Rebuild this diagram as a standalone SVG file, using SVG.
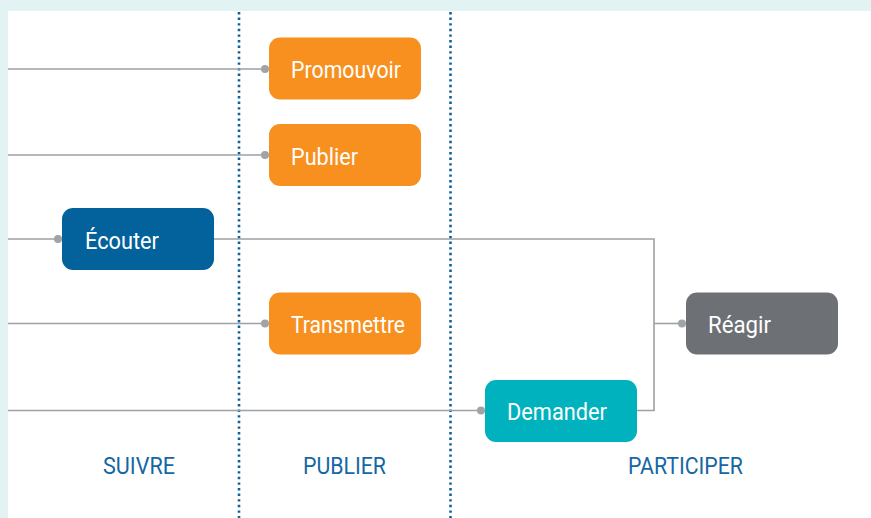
<svg xmlns="http://www.w3.org/2000/svg" width="871" height="518" viewBox="0 0 871 518">
  <style>
    .lbl { font-family: Roboto, "Liberation Sans", sans-serif; font-size: 23px; fill: #ffffff; }
    .col { font-family: Roboto, "Liberation Sans", sans-serif; font-size: 23px; fill: #1467a2; }
    .wire { fill: none; stroke: #9da1a4; stroke-width: 1.6; }
    .dot { fill: #a0a4a7; }
    .sep { stroke: #12609c; stroke-width: 2.6; stroke-dasharray: 2.4 3.2; }
  </style>

  <!-- frame -->
  <rect x="0" y="0" width="871" height="518" fill="#e3f3f4"/>
  <rect x="8" y="11" width="863" height="507" fill="#ffffff"/>

  <!-- column separators -->
  <g id="separators">
    <line class="sep" x1="239" y1="12" x2="239" y2="518"/>
    <line class="sep" x1="450.5" y1="12" x2="450.5" y2="518"/>
  </g>

  <!-- connectors -->
  <g id="connectors">
    <line class="wire" x1="8" y1="69" x2="265" y2="69"/>
    <circle class="dot" cx="265" cy="69" r="4"/>
    <line class="wire" x1="8" y1="155" x2="265" y2="155"/>
    <circle class="dot" cx="265" cy="155" r="4"/>
    <line class="wire" x1="8" y1="239" x2="58" y2="239"/>
    <circle class="dot" cx="58" cy="239" r="4"/>
    <line class="wire" x1="8" y1="323.5" x2="265" y2="323.5"/>
    <circle class="dot" cx="265" cy="323.5" r="4"/>
    <line class="wire" x1="8" y1="410.5" x2="481" y2="410.5"/>
    <circle class="dot" cx="481" cy="410.5" r="4"/>
    <polyline class="wire" points="214,239 654,239 654,410.5 637,410.5"/>
    <line class="wire" x1="654" y1="323.5" x2="682" y2="323.5"/>
    <circle class="dot" cx="682" cy="323.5" r="4"/>
  </g>

  <!-- nodes -->
  <g id="promouvoir">
    <rect x="269" y="37.5" width="152" height="62" rx="11" fill="#f7901e"/>
    <text class="lbl" x="291" y="78" textLength="110" lengthAdjust="spacingAndGlyphs">Promouvoir</text>
  </g>
  <g id="publier">
    <rect x="269" y="124" width="152" height="62" rx="11" fill="#f7901e"/>
    <text class="lbl" x="291" y="164.5" textLength="67" lengthAdjust="spacingAndGlyphs">Publier</text>
  </g>
  <g id="ecouter">
    <rect x="62" y="208" width="152" height="62" rx="11" fill="#03619b"/>
    <text class="lbl" x="85" y="248.5" textLength="74" lengthAdjust="spacingAndGlyphs">Écouter</text>
  </g>
  <g id="transmettre">
    <rect x="269" y="292.5" width="152" height="62" rx="11" fill="#f7901e"/>
    <text class="lbl" x="291" y="333" textLength="114" lengthAdjust="spacingAndGlyphs">Transmettre</text>
  </g>
  <g id="demander">
    <rect x="485" y="380" width="152" height="62" rx="11" fill="#00b2bd"/>
    <text class="lbl" x="507" y="420" textLength="100" lengthAdjust="spacingAndGlyphs">Demander</text>
  </g>
  <g id="reagir">
    <rect x="686" y="292.5" width="152" height="62" rx="11" fill="#6d7175"/>
    <text class="lbl" x="708" y="333" textLength="63" lengthAdjust="spacingAndGlyphs">Réagir</text>
  </g>

  <!-- column titles -->
  <g id="titles">
    <text class="col" x="103" y="474" textLength="72" lengthAdjust="spacingAndGlyphs">SUIVRE</text>
    <text class="col" x="303" y="474" textLength="83" lengthAdjust="spacingAndGlyphs">PUBLIER</text>
    <text class="col" x="628" y="474" textLength="115" lengthAdjust="spacingAndGlyphs">PARTICIPER</text>
  </g>
</svg>
